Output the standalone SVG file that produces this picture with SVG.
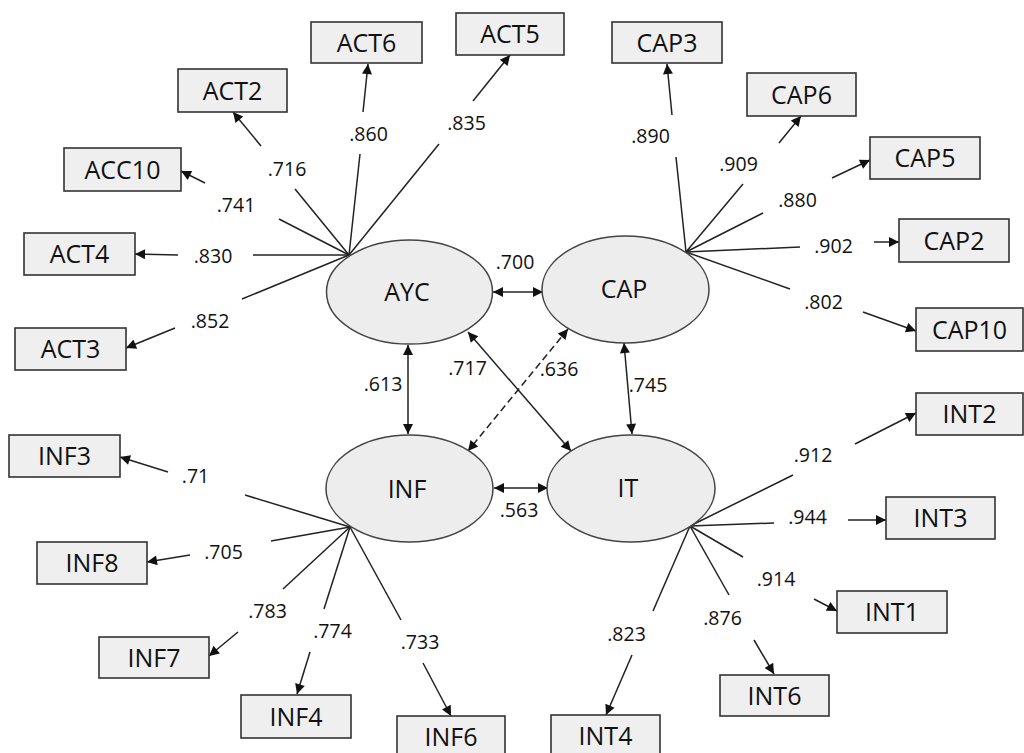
<svg xmlns="http://www.w3.org/2000/svg" width="1024" height="753" viewBox="0 0 1024 753">
<style>
.box{fill:#efefef;stroke:#333;stroke-width:1.6}
.lat{fill:#ededed;stroke:#444;stroke-width:1.5}
.lbl{font-family:"Open Sans","Liberation Sans",sans-serif;font-size:25px;fill:#111;text-anchor:middle}
.num{font-family:"Open Sans","Liberation Sans",sans-serif;font-size:19.5px;fill:#111;text-anchor:middle}
.ln{stroke:#222;stroke-width:1.5;fill:none}
.ar{stroke:#222;stroke-width:1.5;fill:none;marker-end:url(#ah)}
.dbl{stroke:#222;stroke-width:1.5;fill:none;marker-end:url(#ah);marker-start:url(#ah)}
.dash{stroke-dasharray:7,4}
</style>
<defs>
<marker id="ah" viewBox="0 0 10 10" refX="10" refY="5" markerWidth="12" markerHeight="10" markerUnits="userSpaceOnUse" orient="auto-start-reverse">
<path d="M0,0 L10,5 L0,10 z" fill="#111"/>
</marker>
</defs>
<rect width="1024" height="753" fill="#fff"/>

<g id="connectors">
<line class="ln" x1="349" y1="255" x2="439" y2="144"/><line class="ar" x1="473" y1="101" x2="510" y2="55"/>
<line class="ln" x1="349" y1="255" x2="360" y2="154"/><line class="ar" x1="363" y1="112" x2="368" y2="64"/>
<line class="ln" x1="349" y1="255" x2="295" y2="189"/><line class="ar" x1="261" y1="146" x2="233" y2="112"/>
<line class="ln" x1="349" y1="255" x2="279" y2="219"/><line class="ar" x1="205" y1="183" x2="181" y2="171"/>
<line class="ln" x1="349" y1="255" x2="253" y2="255"/><line class="ar" x1="178" y1="255" x2="135" y2="254"/>
<line class="ln" x1="349" y1="255" x2="242" y2="299"/><line class="ar" x1="175" y1="328" x2="126" y2="348"/>
<line class="ln" x1="686" y1="252" x2="676" y2="157"/><line class="ar" x1="672" y1="115" x2="667" y2="64"/>
<line class="ln" x1="686" y1="252" x2="743" y2="184"/><line class="ar" x1="779" y1="143" x2="801" y2="116"/>
<line class="ln" x1="686" y1="252" x2="763" y2="213"/><line class="ar" x1="832" y1="178" x2="870" y2="160"/>
<line class="ln" x1="686" y1="252" x2="800" y2="247"/><line class="ar" x1="874" y1="242" x2="899" y2="242"/>
<line class="ln" x1="686" y1="252" x2="790" y2="289"/><line class="ar" x1="863" y1="312" x2="916" y2="331"/>
<line class="ln" x1="350" y1="527" x2="245" y2="495"/><line class="ar" x1="168" y1="472" x2="120" y2="457"/>
<line class="ln" x1="350" y1="527" x2="271" y2="541"/><line class="ar" x1="190" y1="555" x2="147" y2="562"/>
<line class="ln" x1="350" y1="527" x2="283" y2="589"/><line class="ar" x1="238" y1="632" x2="209" y2="656"/>
<line class="ln" x1="350" y1="527" x2="324" y2="609"/><line class="ar" x1="310" y1="652" x2="297" y2="694"/>
<line class="ln" x1="350" y1="527" x2="401" y2="620"/><line class="ar" x1="423" y1="663" x2="451" y2="716"/>
<line class="ln" x1="690" y1="526" x2="793" y2="475"/><line class="ar" x1="855" y1="444" x2="916" y2="413"/>
<line class="ln" x1="690" y1="526" x2="774" y2="523"/><line class="ar" x1="848" y1="520" x2="886" y2="520"/>
<line class="ln" x1="690" y1="526" x2="743" y2="557"/><line class="ar" x1="814" y1="599" x2="837" y2="611"/>
<line class="ln" x1="690" y1="526" x2="729" y2="595"/><line class="ar" x1="754" y1="640" x2="774" y2="674"/>
<line class="ln" x1="690" y1="526" x2="653" y2="611"/><line class="ar" x1="632" y1="655" x2="606" y2="715"/>
<line class="dbl" x1="493" y1="292" x2="543" y2="292"/>
<line class="dbl" x1="408" y1="345" x2="408" y2="434"/>
<line class="dbl" x1="468" y1="332" x2="571" y2="451"/>
<line class="dbl dash" x1="568" y1="329" x2="468" y2="451"/>
<line class="dbl" x1="624" y1="343" x2="632" y2="434"/>
<line class="dbl" x1="494" y1="488" x2="548" y2="488"/>
</g>

<g id="connector-labels">
<text class="num" x="287" y="176">.716</text>
<text class="num" x="368.5" y="141">.860</text>
<text class="num" x="466.5" y="130">.835</text>
<text class="num" x="236" y="212">.741</text>
<text class="num" x="213" y="263">.830</text>
<text class="num" x="210" y="328">.852</text>
<text class="num" x="515" y="269">.700</text>
<text class="num" x="383" y="391">.613</text>
<text class="num" x="467.5" y="375">.717</text>
<text class="num" x="559" y="376">.636</text>
<text class="num" x="648" y="392">.745</text>
<text class="num" x="519" y="517">.563</text>
<text class="num" x="650.5" y="143">.890</text>
<text class="num" x="738.5" y="171">.909</text>
<text class="num" x="797.5" y="207">.880</text>
<text class="num" x="833.5" y="253">.902</text>
<text class="num" x="823.5" y="309">.802</text>
<text class="num" x="195.5" y="483">.71</text>
<text class="num" x="223.5" y="559">.705</text>
<text class="num" x="267.5" y="618">.783</text>
<text class="num" x="332.5" y="638">.774</text>
<text class="num" x="420" y="649">.733</text>
<text class="num" x="813" y="462">.912</text>
<text class="num" x="807.5" y="524">.944</text>
<text class="num" x="776" y="586">.914</text>
<text class="num" x="722.5" y="625">.876</text>
<text class="num" x="626.5" y="641">.823</text>
</g>

<g id="AYC"><ellipse class="lat" cx="409.5" cy="292" rx="83" ry="52"/><text class="lbl" x="407" y="301">AYC</text></g>
<g id="CAP"><ellipse class="lat" cx="625.5" cy="289.5" rx="83.5" ry="53.5"/><text class="lbl" x="624" y="298">CAP</text></g>
<g id="INF"><ellipse class="lat" cx="409.5" cy="488.5" rx="83.5" ry="53.5"/><text class="lbl" x="407" y="498">INF</text></g>
<g id="IT"><ellipse class="lat" cx="631" cy="488.5" rx="84" ry="53.5"/><text class="lbl" x="628" y="497">IT</text></g>

<g id="ACT6"><rect class="box" x="311" y="22" width="111" height="41"/><text class="lbl" x="366.5" y="51.5">ACT6</text></g>
<g id="ACT5"><rect class="box" x="456" y="13" width="108" height="42"/><text class="lbl" x="510" y="43">ACT5</text></g>
<g id="ACT2"><rect class="box" x="178" y="69" width="109" height="43"/><text class="lbl" x="232.5" y="99.5">ACT2</text></g>
<g id="ACC10"><rect class="box" x="64" y="148" width="117" height="43"/><text class="lbl" x="122.5" y="178.5">ACC10</text></g>
<g id="ACT4"><rect class="box" x="24" y="233" width="111" height="42"/><text class="lbl" x="79.5" y="263">ACT4</text></g>
<g id="ACT3"><rect class="box" x="15" y="328" width="111" height="42"/><text class="lbl" x="70.5" y="358">ACT3</text></g>

<g id="CAP3"><rect class="box" x="612" y="22" width="110" height="41"/><text class="lbl" x="667" y="51.5">CAP3</text></g>
<g id="CAP6"><rect class="box" x="747" y="73" width="109" height="43"/><text class="lbl" x="801.5" y="103.5">CAP6</text></g>
<g id="CAP5"><rect class="box" x="870" y="137" width="110" height="42"/><text class="lbl" x="925" y="167">CAP5</text></g>
<g id="CAP2"><rect class="box" x="899" y="219" width="110" height="43"/><text class="lbl" x="954" y="249.5">CAP2</text></g>
<g id="CAP10"><rect class="box" x="916" y="308" width="107" height="43"/><text class="lbl" x="969.5" y="338.5">CAP10</text></g>

<g id="INF3"><rect class="box" x="9" y="435" width="111" height="42"/><text class="lbl" x="64.5" y="465">INF3</text></g>
<g id="INF8"><rect class="box" x="37" y="542" width="110" height="42"/><text class="lbl" x="92" y="572">INF8</text></g>
<g id="INF7"><rect class="box" x="99" y="637" width="110" height="41"/><text class="lbl" x="154" y="666.5">INF7</text></g>
<g id="INF4"><rect class="box" x="241" y="695" width="110" height="43"/><text class="lbl" x="296" y="725.5">INF4</text></g>
<g id="INF6"><rect class="box" x="397" y="716" width="108" height="42"/><text class="lbl" x="451" y="746">INF6</text></g>

<g id="INT2"><rect class="box" x="916" y="393" width="107" height="42"/><text class="lbl" x="969.5" y="423">INT2</text></g>
<g id="INT3"><rect class="box" x="886" y="497" width="109" height="42"/><text class="lbl" x="940.5" y="527">INT3</text></g>
<g id="INT1"><rect class="box" x="837" y="591" width="110" height="42"/><text class="lbl" x="892" y="621">INT1</text></g>
<g id="INT6"><rect class="box" x="720" y="675" width="109" height="41"/><text class="lbl" x="774.5" y="704.5">INT6</text></g>
<g id="INT4"><rect class="box" x="551" y="715" width="109" height="42"/><text class="lbl" x="605.5" y="745">INT4</text></g>
</svg>
